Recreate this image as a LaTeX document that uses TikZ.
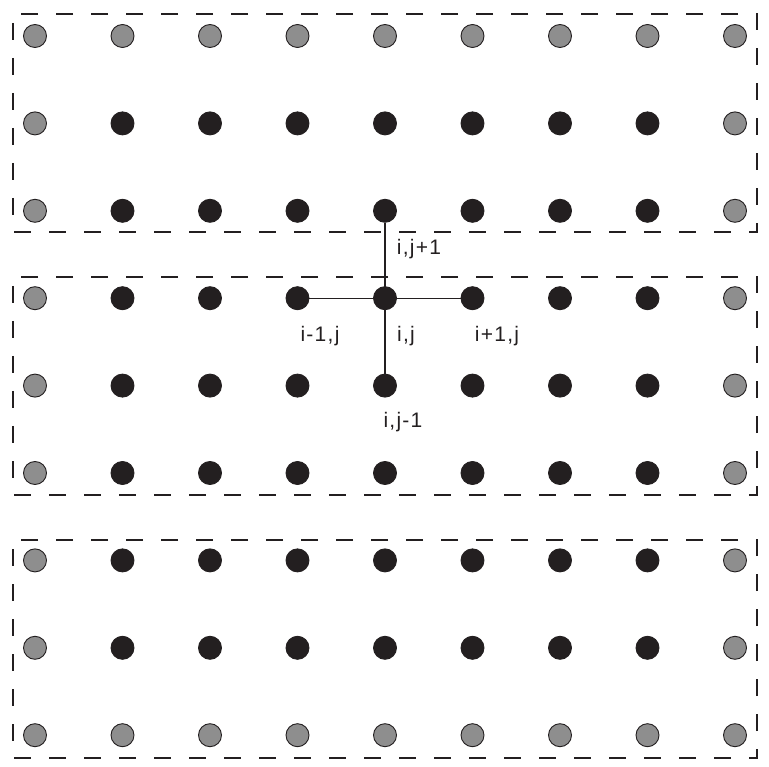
\documentclass[tikz,border=0pt]{standalone}
\usepackage{fontspec}
\setmainfont{Liberation Sans}[LetterSpace=6]
\definecolor{ink}{RGB}{35,31,32}
\definecolor{dotgray}{RGB}{142,142,142}
\begin{document}
\begin{tikzpicture}[x=1pt,y=-1pt,
  dot/.style={circle,minimum size=23pt,inner sep=0pt,draw=ink,line width=0.9pt},
  innerdot/.style={dot,fill=ink},
  edgedot/.style={dot,fill=dotgray},
  boxline/.style={draw=ink,line width=2pt,dash pattern=on 17pt off 18pt,dash phase=26pt},
  link/.style={draw=ink,line width=1.3pt},
  lbl/.style={font=\fontsize{21pt}{24pt}\selectfont,text=ink,inner sep=0pt,anchor=base}]
\useasboundingbox (0,0) rectangle (769,767);
% dashed boxes
\draw[boxline] (13,14) rectangle (757,232);
\draw[boxline] (13,277) rectangle (757,495);
\draw[boxline] (13,540) rectangle (757,758);
% dots
\foreach \c in {1,...,9}{
  \foreach \r in {1,...,9}{
    \pgfmathsetmacro{\xx}{35+87.5*(\c-1)}
    \pgfmathsetmacro{\yy}{36+87.4*(\r-1)}
    \pgfmathtruncatemacro{\isedge}{(\c==1)||(\c==9)||(\r==1)||(\r==9)}
    \ifnum\isedge=1
      \node[edgedot] (d-\c-\r) at (\xx,\yy) {};
    \else
      \node[innerdot] (d-\c-\r) at (\xx,\yy) {};
    \fi
  }
}
% stencil connectors
\draw[link] (d-4-4) -- (d-6-4);
\draw[link] (d-5-3) -- (d-5-5);
% labels
\node[lbl] (lup) at (419,255) {i,j+1};
\node[lbl] (lleft) at (320,342) {i-1,j};
\node[lbl] (lmid) at (406,342) {i,j};
\node[lbl] (lright) at (497,342) {i+1,j};
\node[lbl] (ldown) at (403,428) {i,j-1};
\end{tikzpicture}
\end{document}
